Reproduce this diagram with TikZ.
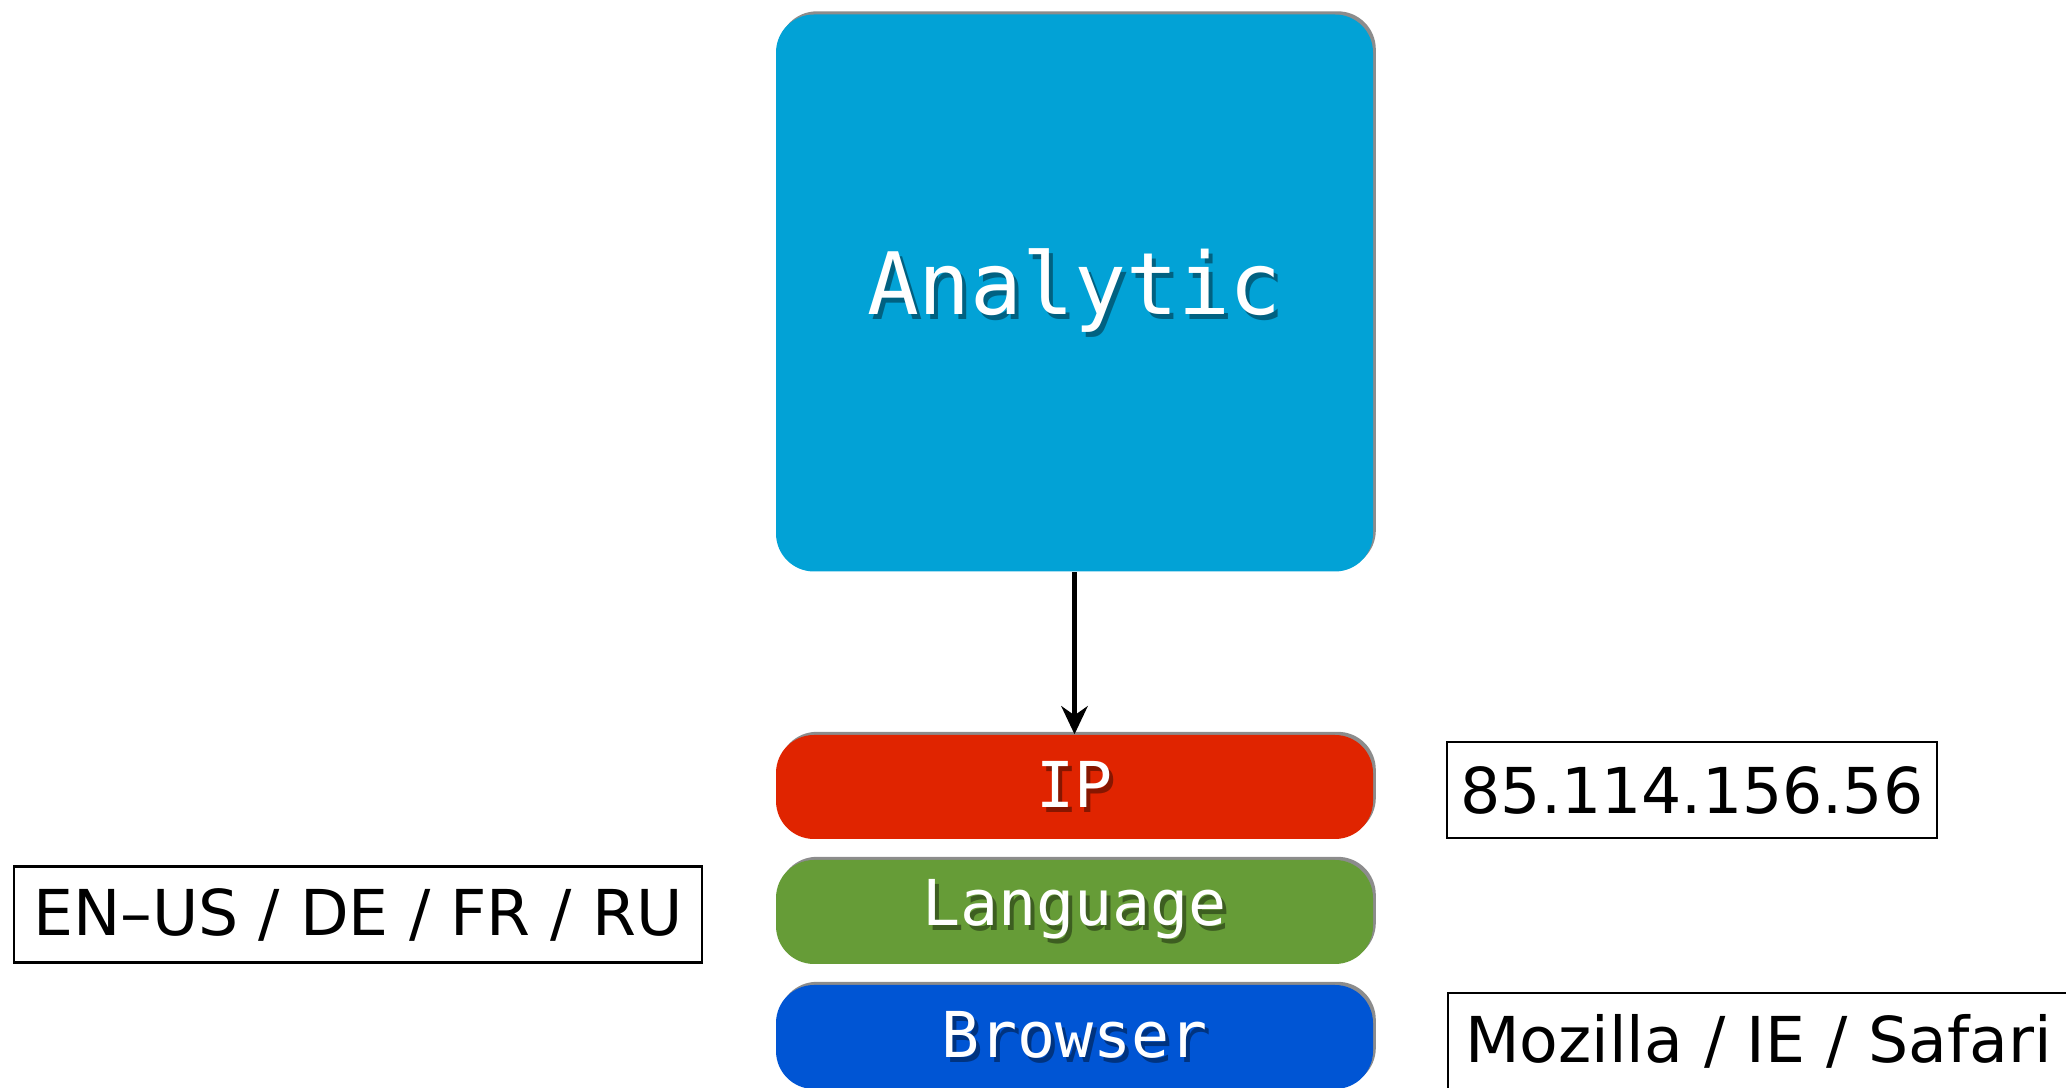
\documentclass[tikz,border=0pt]{standalone}
\usepackage{fontspec}
\setmainfont{DejaVu Sans}
\newfontfamily\boxfont{DejaVu Sans Mono}
\usetikzlibrary{shadows,arrows.meta}
\definecolor{cyanbox}{RGB}{2,162,214}
\definecolor{redbar}{RGB}{224,36,0}
\definecolor{greenbar}{RGB}{102,156,55}
\definecolor{bluebar}{RGB}{0,85,212}
\newcommand{\shtext}[2]{\makebox[0pt][l]{\hspace{1.1pt}\raisebox{-1.4pt}{\textcolor{#1}{#2}}}\textcolor{white}{#2}}
\tikzset{
  colbox/.style={rounded corners=0.38cm, draw=none, minimum width=5.97cm, inner sep=0pt,
    drop shadow={shadow xshift=0.8pt, shadow yshift=0.9pt, fill=black, opacity=0.45}},
  barbox/.style={colbox, minimum height=1.04cm, font=\boxfont\fontsize{18pt}{20pt}\selectfont},
  labelbox/.style={draw=black, line width=0.6pt, minimum height=0.96cm, inner sep=0pt,
    font=\fontsize{18pt}{20pt}\selectfont},
  arr/.style={line width=1.3pt, -{Stealth[length=8pt,width=7.5pt]}}
}
\begin{document}
\begin{tikzpicture}
\useasboundingbox (0,0) rectangle (20.66,10.88);
\clip (0,0) rectangle (20.66,10.88);
\node[colbox, fill=cyanbox, minimum height=5.57cm, font=\boxfont\fontsize{24.5pt}{27pt}\selectfont]
  (big) at (10.745,7.95) {\shtext{cyanbox!60!black}{Analytic}};
\node[barbox, fill=redbar] (ip) at (10.745,3.01) {\shtext{redbar!60!black}{IP}};
\node[barbox, fill=greenbar] (lang) at (10.745,1.76) {\shtext{greenbar!60!black}{Language}};
\node[barbox, fill=bluebar] (brow) at (10.745,0.51) {\shtext{bluebar!60!black}{Browser}};
\draw[arr] (big.south) -- (ip.north);
\node[labelbox, minimum width=4.90cm] (iplab) at (16.92,2.98) {85.114.156.56};
\node[labelbox, minimum width=6.88cm] (langlab) at (3.58,1.735) {EN–US / DE / FR / RU};
\node[labelbox, minimum width=6.4cm, anchor=west, text width=6.4cm, align=left] (browlab) at (14.47,0.47) {\hspace{0.17cm}Mozilla / IE / Safari};
\end{tikzpicture}
\end{document}
